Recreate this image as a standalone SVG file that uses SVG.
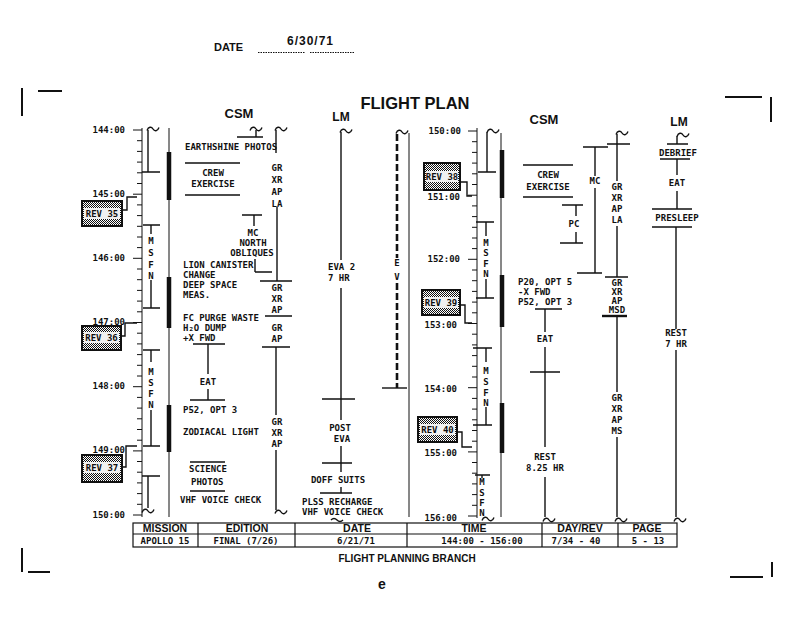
<svg xmlns="http://www.w3.org/2000/svg" width="790" height="630" viewBox="0 0 790 630">
<style>
.ln{stroke:#111;stroke-width:1.4;fill:none}
.th{stroke:#111;stroke-width:1;fill:none}
.bar{stroke:#111;stroke-width:4.5;fill:none}
.dash{stroke:#111;stroke-width:2.6;fill:none;stroke-dasharray:7 3}
.t{font-family:"DejaVu Sans Mono","Liberation Mono",monospace;font-size:9px;font-weight:bold;fill:#111}
.m{text-anchor:middle}
.e{text-anchor:end}
.h{font-family:"Liberation Sans",Arial,sans-serif;font-weight:bold;fill:#111}
.rev{fill:url(#stip);stroke:#111;stroke-width:2}
.band{fill:#f0f0f0}
.cell{fill:none;stroke:#111;stroke-width:1.2}
.cm{stroke:#111;stroke-width:2;fill:none}
</style>
<defs>
<pattern id="stip" width="2" height="2" patternUnits="userSpaceOnUse"><rect width="2" height="2" fill="#fff"/><rect width="1" height="1" fill="#111"/><rect x="1" y="1" width="1" height="1" fill="#111"/></pattern>
<path id="sq" d="M-6,1.5 C-4.5,-2.5 -1.5,-2.5 0,0 C1.5,2.5 4.5,2.5 6,-1.5" style="stroke:#111;stroke-width:1.4;fill:none"/>
</defs>
<rect width="790" height="630" fill="#fff"/>

<g id="header">
<text class="h" x="214" y="51" font-size="11">DATE</text>
<text class="h" x="287" y="45" font-size="12" letter-spacing="1" font-weight="normal">6/30/71</text>
<path d="M258,52.5H305M310,52.5H355" style="stroke:#111;stroke-width:1;stroke-dasharray:1.5 1"/>
<path class="cm" d="M22,88V116M38,91H62M725,97H762M771,97V122M22,548V572M28,572H50M730,577H763M772,562V577"/>
<text class="h" x="415" y="109" font-size="16.5" text-anchor="middle">FLIGHT PLAN</text>
<text class="h" x="239" y="118" font-size="13" text-anchor="middle">CSM</text>
<text class="h" x="341" y="121" font-size="12" text-anchor="middle">LM</text>
<text class="h" x="544" y="124" font-size="13" text-anchor="middle">CSM</text>
<text class="h" x="679" y="126" font-size="12" text-anchor="middle">LM</text>
</g>

<g id="left-scale">
<path class="th" d="M142,128V517"/>
<path class="th" d="M133,130h9M137,140.7h5M137,151.4h5M137,162.1h5M137,172.8h5M137,183.5h5M133,194.2h9M137,204.9h5M137,215.6h5M137,226.3h5M137,237h5M137,247.6h5M133,258.3h9M137,269h5M137,279.7h5M137,290.4h5M137,301.1h5M137,311.8h5M133,322.5h9M137,333.2h5M137,343.9h5M137,354.6h5M137,365.3h5M137,376h5M133,386.7h9M137,397.4h5M137,408.1h5M137,418.8h5M137,429.5h5M137,440.2h5M133,450.9h9M137,461.5h5M137,472.2h5M137,482.9h5M137,493.6h5M137,504.3h5M133,515h9"/>
<text class="t e" x="125" y="133">144:00</text>
<text class="t e" x="125" y="197">145:00</text>
<text class="t e" x="125" y="261">146:00</text>
<text class="t e" x="125" y="325">147:00</text>
<text class="t e" x="125" y="389">148:00</text>
<text class="t e" x="125" y="453">149:00</text>
<text class="t e" x="125" y="518">150:00</text>
</g>

<g id="left-comm">
<use href="#sq" x="153" y="129"/>
<path class="ln" d="M148,130V172M142,172H160"/>
<path class="ln" d="M143,225H160M151,225V234M151,280V308M143,308H160"/>
<text class="t m" x="151" y="244">M</text><text class="t m" x="151" y="256">S</text><text class="t m" x="151" y="268">F</text><text class="t m" x="151" y="279">N</text>
<path class="ln" d="M143,350H160M151,350V362M151,410V446M143,446H160"/>
<text class="t m" x="151" y="375">M</text><text class="t m" x="151" y="386">S</text><text class="t m" x="151" y="397">F</text><text class="t m" x="151" y="408">N</text>
<path class="ln" d="M142,476H160M148,476V508"/>
<use href="#sq" x="148" y="511"/>
</g>

<g id="rev35"><rect class="rev" x="82" y="201" width="40" height="25"/><rect class="band" x="84" y="208" width="36" height="11"/><text class="t m" x="102" y="217">REV 35</text></g>
<g id="rev36"><rect class="rev" x="82" y="326" width="39" height="24"/><rect class="band" x="84" y="332" width="35" height="11"/><text class="t m" x="101.5" y="341">REV 36</text></g>
<g id="rev37"><rect class="rev" x="82" y="455" width="40" height="27"/><rect class="band" x="84" y="462" width="36" height="11"/><text class="t m" x="102" y="471">REV 37</text></g>

<g id="left-csm-border">
<path class="th" d="M169,128V517"/>
<path class="bar" d="M169,152V200M169,277V328M169,405V452"/>
</g>

<g id="left-csm">
<use href="#sq" x="256" y="129"/>
<path class="ln" d="M256,130V137M237,137H263"/>
<text class="t" x="185" y="150">EARTHSHINE PHOTOS</text>
<path class="ln" d="M185,163H240M185,195H240"/>
<text class="t m" x="213" y="176">CREW</text>
<text class="t m" x="213" y="187">EXERCISE</text>
<path class="ln" d="M242,215H262M254,215V226M255,259V272M255,272H272"/>
<text class="t m" x="253" y="236">MC</text>
<text class="t m" x="253" y="246">NORTH</text>
<text class="t m" x="252" y="256">OBLIQUES</text>
<text class="t" x="183" y="268">LION CANISTER</text>
<text class="t" x="183" y="278">CHANGE</text>
<text class="t" x="183" y="288">DEEP SPACE</text>
<text class="t" x="183" y="298"> MEAS.</text>
<text class="t" x="183" y="321">FC PURGE WASTE</text>
<text class="t" x="183" y="331">H₂O DUMP</text>
<text class="t" x="183" y="341">+X FWD</text>
<path class="ln" d="M193,344H225M208,344V374M208,389V400M190,400H225"/>
<text class="t m" x="208" y="385">EAT</text>
<text class="t" x="183" y="413">P52, OPT 3</text>
<text class="t" x="183" y="435">ZODIACAL LIGHT</text>
<path class="ln" d="M190,462H225M190,491H225"/>
<text class="t" x="189" y="472">SCIENCE</text>
<text class="t" x="191" y="485">PHOTOS</text>
<text class="t" x="180" y="503">VHF VOICE CHECK</text>
</g>

<g id="left-csm-comm">
<use href="#sq" x="281" y="129"/>
<path class="ln" d="M276,130V153M277,207V281M260,281H292M265,316H292M262,347H290M276,347V415M276,450V510"/>
<use href="#sq" x="281" y="512"/>
<text class="t m" x="277" y="171">GR</text><text class="t m" x="277" y="183">XR</text><text class="t m" x="277" y="195">AP</text><text class="t m" x="277" y="207">LA</text>
<text class="t m" x="277" y="291">GR</text><text class="t m" x="277" y="302">XR</text><text class="t m" x="277" y="313">AP</text>
<text class="t m" x="277" y="331">GR</text><text class="t m" x="277" y="342">AP</text>
<text class="t m" x="277" y="425">GR</text><text class="t m" x="277" y="436">XR</text><text class="t m" x="277" y="447">AP</text>
</g>

<g id="left-lm">
<use href="#sq" x="346" y="131"/>
<path class="ln" d="M341,132V260M341,288V420M322,399H355M341,446V472M322,463H352M341,487V493M320,493H352"/>
<text class="t" x="328" y="270">EVA 2</text>
<text class="t" x="328" y="281">7 HR</text>
<text class="t m" x="340" y="431">POST</text>
<text class="t m" x="342" y="442">EVA</text>
<text class="t m" x="338" y="483">DOFF SUITS</text>
<text class="t" x="302" y="505">PLSS RECHARGE</text>
<text class="t" x="302" y="515">VHF VOICE CHECK</text>
<path class="ln" d="M331,520c2,-2 4,-2 6,0s4,2 6,0"/>
</g>

<g id="left-eva">
<use href="#sq" x="402" y="132"/>
<path class="dash" d="M397,134V258M397,283V388"/>
<path class="ln" d="M382,388H407"/>
<text class="t m" x="397" y="266">E</text>
<text class="t m" x="397" y="280">V</text>
</g>

<g id="divider"><path class="th" d="M409,133V517"/></g>

<g id="right-scale">
<path class="th" d="M477,128V518"/>
<path class="th" d="M468,131h9M472,141.7h5M472,152.4h5M472,163.1h5M472,173.8h5M472,184.5h5M468,195.2h9M472,205.9h5M472,216.6h5M472,227.3h5M472,238h5M472,248.6h5M468,259.3h9M472,270h5M472,280.7h5M472,291.4h5M472,302.1h5M472,312.8h5M468,323.5h9M472,334.2h5M472,344.9h5M472,355.6h5M472,366.3h5M472,377h5M468,387.7h9M472,398.4h5M472,409.1h5M472,419.8h5M472,430.5h5M472,441.2h5M468,451.9h9M472,462.5h5M472,473.2h5M472,483.9h5M472,494.6h5M472,505.3h5M468,516h9"/>
<text class="t e" x="461" y="134">150:00</text>
<text class="t e" x="460" y="200">151:00</text>
<text class="t e" x="460" y="262">152:00</text>
<text class="t e" x="457" y="328">153:00</text>
<text class="t e" x="457" y="392">154:00</text>
<text class="t e" x="457" y="456">155:00</text>
<text class="t e" x="457" y="521">156:00</text>
</g>

<g id="right-comm">
<use href="#sq" x="493" y="131"/>
<path class="ln" d="M487,132V172M478,172H496"/>
<path class="ln" d="M476,222H494M486,222V236M486,279V298M476,298H494"/>
<text class="t m" x="486" y="246">M</text><text class="t m" x="486" y="256">S</text><text class="t m" x="486" y="267">F</text><text class="t m" x="486" y="277">N</text>
<path class="ln" d="M473,348H492M486,348V362M486,407V425M473,425H492"/>
<text class="t m" x="486" y="374">M</text><text class="t m" x="486" y="385">S</text><text class="t m" x="486" y="396">F</text><text class="t m" x="486" y="406">N</text>
<path class="ln" d="M475,475H490M482,475V478"/>
<text class="t m" x="482" y="485">M</text><text class="t m" x="482" y="496">S</text><text class="t m" x="482" y="506">F</text><text class="t m" x="482" y="516">N</text>
<use href="#sq" x="488" y="519"/>
</g>

<g id="rev38"><rect class="rev" x="424" y="163" width="36" height="27"/><rect class="band" x="426" y="171" width="32" height="11"/><text class="t m" x="442" y="180">REV 38</text></g>
<g id="rev39"><rect class="rev" x="422" y="290" width="38" height="25"/><rect class="band" x="424" y="297" width="34" height="11"/><text class="t m" x="441" y="306">REV 39</text></g>
<g id="rev40"><rect class="rev" x="418" y="417" width="39" height="25"/><rect class="band" x="420" y="424" width="35" height="11"/><text class="t m" x="437.5" y="433">REV 40</text></g>

<g id="connectors">
<path class="ln" d="M122,210H127V197H137"/>
<path class="ln" d="M121,336H125V323H137"/>
<path class="ln" d="M122,467H126V446H137"/>
<path class="ln" d="M460,182H467V196H472"/>
<path class="ln" d="M460,305H465V323H472"/>
<path class="ln" d="M457,432H462V447H472"/>
</g>

<g id="right-csm-border">
<path class="th" d="M501,133V517"/>
<path class="bar" d="M502,150V198M502,275V327M502,403V453"/>
</g>

<g id="right-csm">
<path class="ln" d="M523,165H573M523,197H573"/>
<text class="t m" x="548" y="178">CREW</text>
<text class="t m" x="548" y="190">EXERCISE</text>
<path class="ln" d="M562,205H583M576,205V216M576,232V243M560,243H583"/>
<text class="t m" x="574" y="227">PC</text>
<path class="ln" d="M583,147H608M595,147V176M595,188V273M577,273H602"/>
<text class="t m" x="595" y="184">MC</text>
<text class="t" x="518" y="285">P20, OPT 5</text>
<text class="t" x="518" y="295">-X FWD</text>
<text class="t" x="518" y="305">P52, OPT 3</text>
<path class="ln" d="M535,309H562M545,309V332M545,347V447M530,372H560M545,477V517"/>
<text class="t m" x="545" y="342">EAT</text>
<text class="t m" x="545" y="460">REST</text>
<text class="t m" x="545" y="471">8.25 HR</text>
<use href="#sq" x="549" y="520"/>
</g>

<g id="right-csm-comm">
<use href="#sq" x="622" y="133"/>
<path class="ln" d="M617,134V181M607,144H630M617,226V277M605,277H628M617,316V392M617,437V517"/>
<path class="ln" style="stroke-width:2.4" d="M602,316H627"/>
<text class="t m" x="617" y="190">GR</text><text class="t m" x="617" y="201">XR</text><text class="t m" x="617" y="212">AP</text><text class="t m" x="617" y="223">LA</text>
<text class="t m" x="617" y="286">GR</text><text class="t m" x="617" y="295">XR</text><text class="t m" x="617" y="304">AP</text><text class="t m" x="617" y="313" font-size="8.5">MSD</text>
<text class="t m" x="617" y="401">GR</text><text class="t m" x="617" y="412">XR</text><text class="t m" x="617" y="423">AP</text><text class="t m" x="617" y="434">MS</text>
<use href="#sq" x="621" y="520"/>
</g>

<g id="right-lm">
<use href="#sq" x="683" y="135"/>
<path class="ln" d="M677,136V144M667,144H688M660,159H690M677,159V175M677,191V209M652,209H692M652,227H692M676,227V329M676,350V517"/>
<text class="t m" x="678" y="156">DEBRIEF</text>
<text class="t m" x="677" y="186">EAT</text>
<text class="t m" x="677" y="221">PRESLEEP</text>
<text class="t m" x="676" y="336">REST</text>
<text class="t m" x="676" y="347">7 HR</text>
<use href="#sq" x="680" y="520"/>
</g>

<g id="table">
<rect class="cell" x="133" y="523" width="544" height="24"/>
<path class="cell" d="M133,534H677M198,523V547M295,523V547M407,523V547M542,523V547M618,523V547"/>
<text class="h m" x="165" y="532" font-size="10.5">MISSION</text>
<text class="h m" x="247" y="532" font-size="10.5">EDITION</text>
<text class="h m" x="357" y="532" font-size="10.5">DATE</text>
<text class="h m" x="474" y="532" font-size="10.5">TIME</text>
<text class="h m" x="580" y="532" font-size="10.5">DAY/REV</text>
<text class="h m" x="647" y="532" font-size="10.5">PAGE</text>
<text class="t m" x="165" y="544">APOLLO 15</text>
<text class="t m" x="246" y="544">FINAL (7/26)</text>
<text class="t m" x="356" y="544">6/21/71</text>
<text class="t m" x="482" y="544">144:00 - 156:00</text>
<text class="t m" x="576" y="544">7/34 - 40</text>
<text class="t m" x="648" y="544">5 - 13</text>
<text class="h m" x="407" y="562" font-size="10">FLIGHT PLANNING BRANCH</text>
<text class="h m" x="382" y="589" font-size="14">e</text>
</g>
</svg>
